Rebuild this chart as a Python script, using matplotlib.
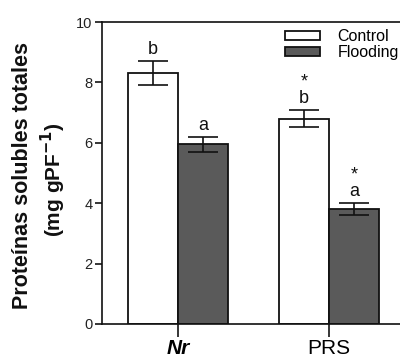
import numpy as np
import matplotlib
matplotlib.use('Agg')
import matplotlib.pyplot as plt

plt.rcParams['font.family'] = ['Liberation Sans', 'DejaVu Sans']

# Data
genotypes = ['Nr', 'PRS']
control = [8.3, 6.8]
control_err = [0.40, 0.28]
flooding = [5.95, 3.8]
flooding_err = [0.25, 0.20]
control_letters = ['b', 'b']
flooding_letters = ['a', 'a']
control_star = ['', '*']
flooding_star = ['', '*']

fig = plt.figure(figsize=(4.0, 3.58), dpi=100)
ax = fig.add_axes([0.255, 0.095, 0.745, 0.8435])

x = np.arange(len(genotypes))
w = 0.331
ax.bar(x - w / 2, control, w, yerr=control_err, color='white', edgecolor='#111111',
       linewidth=1.3, capsize=11, error_kw=dict(elinewidth=1.2, capthick=1.2, ecolor='#111111'),
       label='Control')
ax.bar(x + w / 2, flooding, w, yerr=flooding_err, color='#5a5a5a', edgecolor='#111111',
       linewidth=1.3, capsize=11, error_kw=dict(elinewidth=1.2, capthick=1.2, ecolor='#111111'),
       label='Flooding')

# significance letters and asterisks
def mark(xpos, ytop, letter, star):
    ax.annotate(letter, (xpos, ytop), xytext=(0, 5), textcoords='offset points',
                ha='center', va='baseline', fontsize=13, color='#111111')
    if star:
        ax.annotate(star, (xpos, ytop), xytext=(0, 17), textcoords='offset points',
                    ha='center', va='baseline', fontsize=13, color='#111111')

for i in range(len(genotypes)):
    mark(x[i] - w / 2, control[i] + control_err[i], control_letters[i], control_star[i])
    mark(x[i] + w / 2, flooding[i] + flooding_err[i], flooding_letters[i], flooding_star[i])

ax.set_ylim(0, 10)
ax.set_xlim(-0.503, 1.47)
ax.set_yticks([0, 2, 4, 6, 8, 10])
ax.set_xticks(x)
ax.set_xticklabels(genotypes, fontsize=15)
ax.get_xticklabels()[0].set_style('italic')
ax.get_xticklabels()[0].set_weight('bold')
ax.tick_params(axis='y', labelsize=10.5, length=5, width=1.1, labelcolor='#222222', pad=2)
ax.tick_params(axis='x', length=9, width=1.1, pad=2)
ax.spines['right'].set_visible(False)
for s in ['left', 'top', 'bottom']:
    ax.spines[s].set_linewidth(1.2)
    ax.spines[s].set_color('#111111')

# y label in two lines
fig.text(23 / 400, 0.51, 'Proteínas solubles totales', rotation=90, ha='center', va='center',
         fontsize=15.5, fontweight='bold', color='#111111')
fig.text(53 / 400, 0.497, '(mg gPF$^{\\mathbf{-1}}$)', rotation=90, ha='center', va='center',
         fontsize=15, fontweight='bold', color='#111111')

ax.legend(loc='upper right', bbox_to_anchor=(1.028, 1.007), frameon=False, fontsize=11.5,
          handlelength=2.15, handleheight=0.5, labelspacing=0.05, borderaxespad=0.2,
          handletextpad=1.1)

plt.savefig('out.png', dpi=100)
